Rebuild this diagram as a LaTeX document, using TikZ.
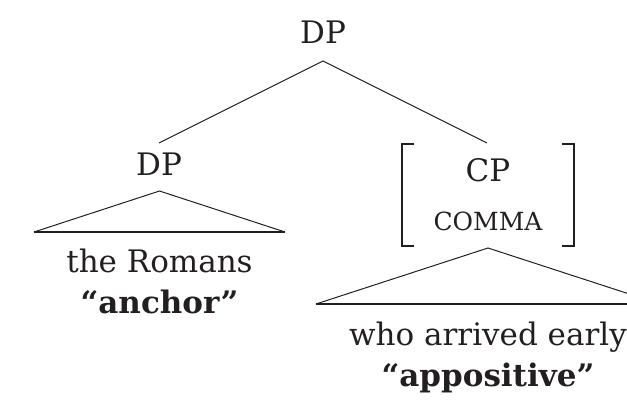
\documentclass[tikz,border=0pt]{standalone}
\usepackage{fontspec}
\setmainfont{DejaVu Serif}
\definecolor{ink}{RGB}{35,31,32}
\begin{document}
\begin{tikzpicture}[x=0.5pt,y=-0.5pt,color=ink,
  lbl/.style={anchor=base,inner sep=0pt,text=ink,font=\fontsize{15.5}{19}\selectfont},
  sclbl/.style={anchor=base,inner sep=0pt,text=ink,font=\fontsize{12.5}{15}\selectfont},
  branch/.style={draw=ink,line width=0.5pt},
  tribase/.style={draw=ink,line width=1.25pt},
  brk/.style={draw=ink,line width=1.45pt}]
\useasboundingbox (0,0) rectangle (627,401);
\clip (0,0) rectangle (627,401);
% labels
\node[lbl] (top) at (323,44) {DP};
\node[lbl] (dp) at (159,176) {DP};
\node[lbl] (cp) at (488,182) {CP};
\node[sclbl] (comma) at (488,230) {COMMA};
\node[lbl] (romans) at (159.5,272) {the Romans};
\node[lbl] (anchor) at (159.5,313) {\textbf{“anchor”}};
\node[lbl] (who) at (488,345) {who arrived early};
\node[lbl] (appos) at (488,386) {\textbf{“appositive”}};
% branch points
\coordinate (topb) at (323,61);
\coordinate (dpt) at (159,143);
\coordinate (cpt) at (487,143);
\draw[branch] (dpt) -- (topb) -- (cpt);
% left triangle
\coordinate (la) at (159.5,191);
\coordinate (ll) at (34,232);
\coordinate (lr) at (285,232);
\draw[branch] (ll) -- (la) -- (lr);
\draw[tribase] (ll) -- (lr);
% right triangle
\coordinate (ra) at (488,248);
\coordinate (rl) at (316,304);
\coordinate (rr) at (660,304);
\draw[branch] (rl) -- (ra) -- (rr);
\draw[tribase] (rl) -- (rr);
% brackets
\coordinate (b1) at (414,144);
\coordinate (b2) at (402,144);
\coordinate (b3) at (402,246);
\coordinate (b4) at (414,246);
\draw[brk] (b1) -- (b2) -- (b3) -- (b4);
\coordinate (c1) at (562,144);
\coordinate (c2) at (574,144);
\coordinate (c3) at (574,246);
\coordinate (c4) at (562,246);
\draw[brk] (c1) -- (c2) -- (c3) -- (c4);
\end{tikzpicture}
\end{document}
